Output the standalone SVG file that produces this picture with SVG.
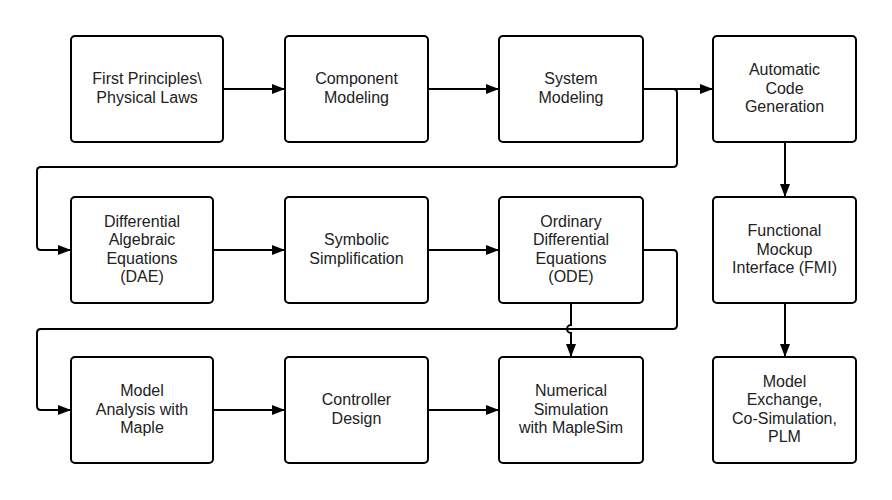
<svg xmlns="http://www.w3.org/2000/svg" width="892" height="500" viewBox="0 0 892 500">
<style>
.box{fill:#fff;stroke:#000;stroke-width:2}
.lbl{font-family:"Liberation Sans",Arial,sans-serif;font-size:16px;fill:#222;text-anchor:middle}
.conn{fill:none;stroke:#000;stroke-width:2;marker-end:url(#arr)}
</style>
<defs>
<marker id="arr" markerUnits="userSpaceOnUse" markerWidth="14" markerHeight="11" refX="13" refY="5" orient="auto">
<path d="M0,0 L13,5 L0,10 z" fill="#000"/>
</marker>
</defs>
<rect width="892" height="500" fill="#fff"/>
<g id="connectors">
<path class="conn" d="M223,89 H285"/>
<path class="conn" d="M428,89 H499"/>
<path class="conn" d="M643,89 H713"/>
<path class="conn" d="M643,89 H673 Q677,89 677,93 V163 Q677,167 673,167 H41 Q37,167 37,171 V246 Q37,250 41,250 H71"/>
<path class="conn" d="M213,250 H285"/>
<path class="conn" d="M428,250 H499"/>
<path class="conn" d="M643,250 H673 Q677,250 677,254 V325 Q677,329 673,329 H41 Q37,329 37,333 V406 Q37,410 41,410 H71"/>
<path class="conn" d="M571,303 V325 A4,4 0 0 0 571,333 V357"/>
<path class="conn" d="M213,410 H285"/>
<path class="conn" d="M428,410 H499"/>
<path class="conn" d="M785,142 V197"/>
<path class="conn" d="M785,303 V357"/>
</g>
<g id="n1"><rect class="box" x="71" y="36" width="152" height="106" rx="4"/>
<text class="lbl" x="147"><tspan x="147" y="84.3">First Principles\</tspan><tspan x="147" y="102.8">Physical Laws</tspan></text></g>
<g id="n2"><rect class="box" x="285" y="36" width="143" height="106" rx="4"/>
<text class="lbl"><tspan x="356.5" y="84.3">Component</tspan><tspan x="356.5" y="102.8">Modeling</tspan></text></g>
<g id="n3"><rect class="box" x="499" y="36" width="144" height="106" rx="4"/>
<text class="lbl"><tspan x="571" y="84.3">System</tspan><tspan x="571" y="102.8">Modeling</tspan></text></g>
<g id="n4"><rect class="box" x="713" y="36" width="143" height="106" rx="4"/>
<text class="lbl"><tspan x="784.5" y="75">Automatic</tspan><tspan x="784.5" y="93.5">Code</tspan><tspan x="784.5" y="112">Generation</tspan></text></g>
<g id="n5"><rect class="box" x="71" y="197" width="142" height="106" rx="4"/>
<text class="lbl"><tspan x="142" y="226.8">Differential</tspan><tspan x="142" y="245.3">Algebraic</tspan><tspan x="142" y="263.8">Equations</tspan><tspan x="142" y="282.3">(DAE)</tspan></text></g>
<g id="n6"><rect class="box" x="285" y="197" width="143" height="106" rx="4"/>
<text class="lbl"><tspan x="356.5" y="245.3">Symbolic</tspan><tspan x="356.5" y="263.8">Simplification</tspan></text></g>
<g id="n7"><rect class="box" x="499" y="197" width="144" height="106" rx="4"/>
<text class="lbl"><tspan x="571" y="226.8">Ordinary</tspan><tspan x="571" y="245.3">Differential</tspan><tspan x="571" y="263.8">Equations</tspan><tspan x="571" y="282.3">(ODE)</tspan></text></g>
<g id="n8"><rect class="box" x="713" y="197" width="143" height="106" rx="4"/>
<text class="lbl"><tspan x="784.5" y="236">Functional</tspan><tspan x="784.5" y="254.5">Mockup</tspan><tspan x="784.5" y="273">Interface (FMI)</tspan></text></g>
<g id="n9"><rect class="box" x="71" y="357" width="142" height="106" rx="4"/>
<text class="lbl"><tspan x="142" y="396">Model</tspan><tspan x="142" y="414.5">Analysis with</tspan><tspan x="142" y="433">Maple</tspan></text></g>
<g id="n10"><rect class="box" x="285" y="357" width="143" height="106" rx="4"/>
<text class="lbl"><tspan x="356.5" y="405.3">Controller</tspan><tspan x="356.5" y="423.8">Design</tspan></text></g>
<g id="n11"><rect class="box" x="499" y="357" width="144" height="106" rx="4"/>
<text class="lbl"><tspan x="571" y="396">Numerical</tspan><tspan x="571" y="414.5">Simulation</tspan><tspan x="571" y="433">with MapleSim</tspan></text></g>
<g id="n12"><rect class="box" x="713" y="357" width="143" height="106" rx="4"/>
<text class="lbl"><tspan x="784.5" y="386.8">Model</tspan><tspan x="784.5" y="405.3">Exchange,</tspan><tspan x="784.5" y="423.8">Co-Simulation,</tspan><tspan x="784.5" y="442.3">PLM</tspan></text></g>
</svg>
